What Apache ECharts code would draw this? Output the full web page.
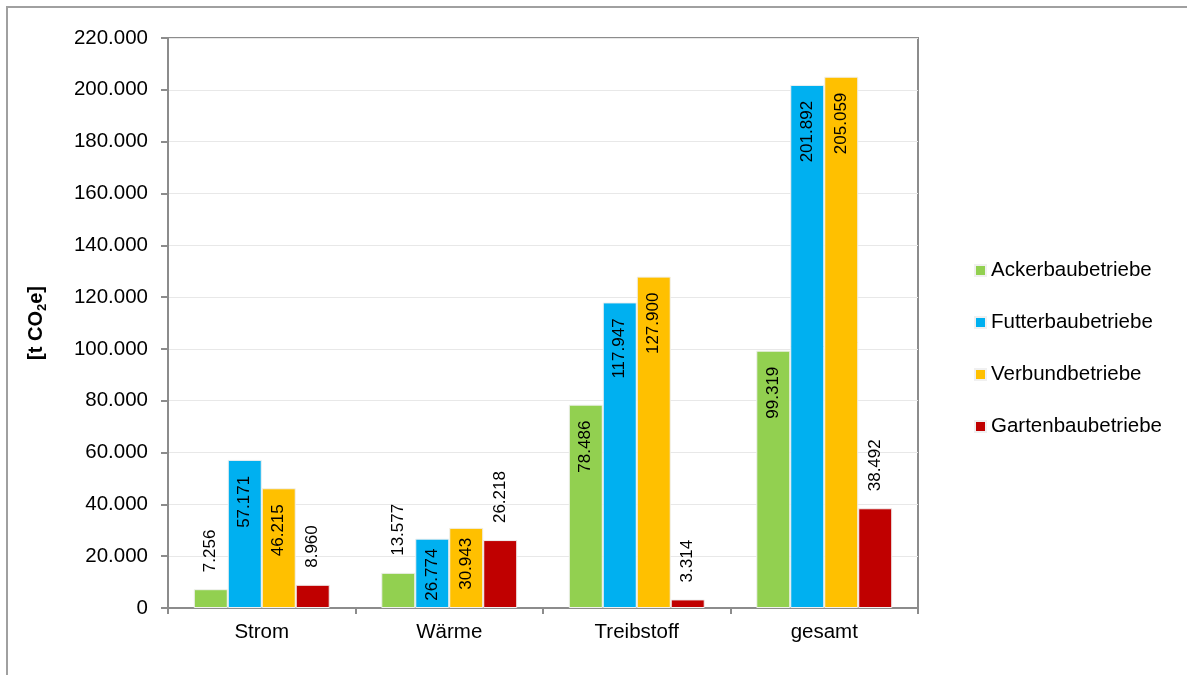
<!DOCTYPE html>
<html>
<head>
<meta charset="utf-8">
<script src="https://cdn.jsdelivr.net/npm/echarts@6/dist/echarts.min.js"></script>
<style>
  html, body { margin: 0; padding: 0; background: #fff; }
  #chart { width: 1187px; height: 675px; }
</style>
</head>
<body>
<div id="chart"></div>
<script>
// Emissions by energy source and farm type, in t CO2e
const categories = ['Strom', 'Wärme', 'Treibstoff', 'gesamt'];
const seriesNames = ['Ackerbaubetriebe', 'Futterbaubetriebe', 'Verbundbetriebe', 'Gartenbaubetriebe'];
const ackerbau = [7256, 13577, 78486, 99319];
const futterbau = [57171, 26774, 117947, 201892];
const verbund = [46215, 30943, 127900, 205059];
const gartenbau = [8960, 26218, 3314, 38492];
const yTicks = { min: 0, max: 220000, interval: 20000 };

const colors = ['#92D050', '#00B0F0', '#FFC000', '#C00000'];
const FONT = '"Liberation Sans", Arial, sans-serif';

// German thousands separator: 205059 -> "205.059"
function fmt(v) {
  return String(Math.round(v)).replace(/\B(?=(\d{3})+(?!\d))/g, '.');
}

const labelBase = {
  show: true,
  rotate: 90,
  fontFamily: FONT,
  fontSize: 17,
  color: '#000',
  verticalAlign: 'middle',
  formatter: p => fmt(p.value)
};

// Values of the red series and the small green bars sit above the bar,
// everything else is written inside the top of the bar.
function buildData(values, seriesIndex) {
  return values.map(v => {
    const outside = seriesIndex === 3 || v < 20000;
    const label = outside
      ? Object.assign({}, labelBase, { position: 'top', align: 'left', distance: 17 })
      : Object.assign({}, labelBase, { position: 'insideTop', align: 'right', distance: v < 35000 ? 10 : 16 });
    return { value: v, label };
  });
}

const allValues = [ackerbau, futterbau, verbund, gartenbau];

const series = allValues.map((vals, i) => ({
  name: seriesNames[i],
  type: 'bar',
  barGap: '0%',
  barCategoryGap: '27.5%',
  itemStyle: { color: colors[i], borderColor: '#f0f0f0', borderWidth: 1 },
  emphasis: { disabled: true },
  data: buildData(vals, i)
}));

const chart = echarts.init(document.getElementById('chart'), null, { renderer: 'canvas' });

chart.setOption({
  animation: false,
  backgroundColor: '#fff',
  color: colors,
  textStyle: { fontFamily: FONT },
  grid: {
    left: 168, right: 269, top: 38, bottom: 67,
    show: true, borderColor: '#8c8c8c', borderWidth: 2, backgroundColor: 'transparent'
  },
  legend: {
    orient: 'vertical',
    left: 974,
    top: 260,
    padding: 0,
    itemWidth: 11,
    itemHeight: 11,
    itemGap: 31,
    icon: 'rect',
    textStyle: { fontFamily: FONT, fontSize: 20.5, color: '#000', lineHeight: 20 },
    data: seriesNames
  },
  xAxis: {
    type: 'category',
    data: categories,
    axisLine: { lineStyle: { color: '#8c8c8c', width: 2 } },
    axisTick: { show: true, length: 6, lineStyle: { color: '#8c8c8c', width: 2 } },
    axisLabel: { fontFamily: FONT, fontSize: 20.5, color: '#000', margin: 14 }
  },
  yAxis: {
    type: 'value',
    min: yTicks.min,
    max: yTicks.max,
    interval: yTicks.interval,
    name: '{a|[t CO}{s|2}{a|e]}',
    nameLocation: 'middle',
    nameRotate: 90,
    nameGap: 119,
    nameTextStyle: {
      rich: {
        a: { fontFamily: FONT, fontSize: 20, fontWeight: 'bold', color: '#000', lineHeight: 26 },
        s: { fontFamily: FONT, fontSize: 13, fontWeight: 'bold', color: '#000', verticalAlign: 'bottom', lineHeight: 14 }
      }
    },
    axisLine: { show: true, lineStyle: { color: '#8c8c8c', width: 2 } },
    axisTick: { show: true, length: 7, lineStyle: { color: '#8c8c8c', width: 2 } },
    axisLabel: { fontFamily: FONT, fontSize: 20.5, color: '#000', margin: 20, formatter: v => fmt(v) },
    splitLine: { show: true, lineStyle: { color: '#e8e8e8', width: 1 } }
  },
  graphic: [{
    type: 'rect',
    silent: true,
    shape: { x: 7, y: 7, width: 1200, height: 700 },
    style: { fill: 'none', stroke: '#a0a0a0', lineWidth: 2 }
  }],
  series
});
</script>
</body>
</html>
